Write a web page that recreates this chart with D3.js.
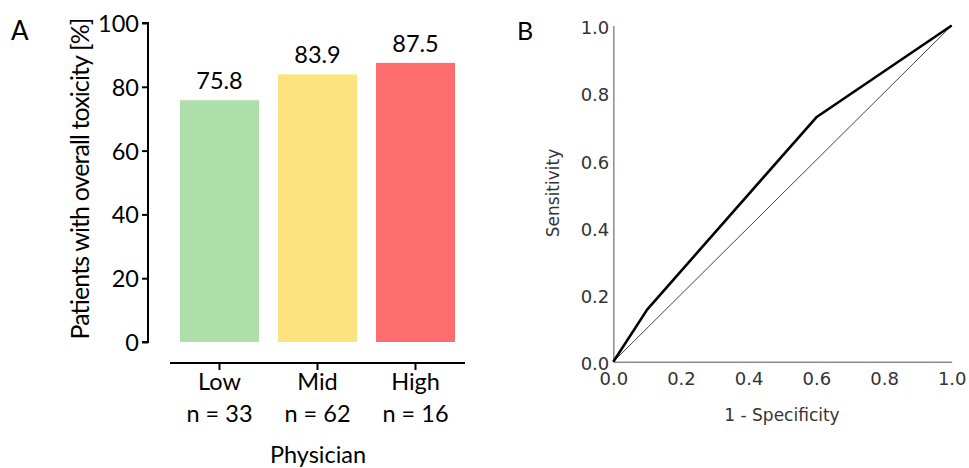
<!DOCTYPE html>
<html>
<head>
<meta charset="utf-8">
<script src="https://cdn.jsdelivr.net/npm/d3@7"></script>
<style>
  html, body { margin: 0; padding: 0; background: #fff; }
  svg { display: block; }
</style>
</head>
<body>
<svg id="chart" width="969" height="468"></svg>
<script>
// Panel A: share of patients with overall toxicity by physician group
const groups = ["Low", "Mid", "High"];
const groupCounts = ["n = 33", "n = 62", "n = 16"];
const toxicityPct = [75.8, 83.9, 87.5];
const barColors = ["#aedfab", "#fce380", "#fe6d6d"];
const pctTicks = [0, 20, 40, 60, 80, 100];

// Panel B: ROC curve
const fpr = [0, 0.1, 0.6, 1.0];
const tpr = [0, 0.155, 0.727, 1.0];
const rocTicks = [0, 0.2, 0.4, 0.6, 0.8, 1.0];

const svg = d3.select("#chart");
const fontA = "Lato, 'Open Sans', sans-serif";
const fontB = "'DejaVu Sans', Verdana, sans-serif";
const sizeA = 23.5;

// ---------- Panel A ----------
const gA = svg.append("g");
const y = d3.scaleLinear().domain([0, 100]).range([342, 23]);
const x = d3.scaleBand().domain(groups).range([170.5, 464.5])
  .paddingInner(0.194).paddingOuter(0.097);

// y axis
const yAxis = gA.append("g").attr("transform", "translate(148,0)")
  .call(d3.axisLeft(y).tickValues(pctTicks).tickSize(6).tickPadding(3).tickFormat(d3.format("d")));
yAxis.select(".domain").attr("stroke", "#000").attr("stroke-width", 2).attr("d", `M-6,${y(100)}H0V${y(0)}H-6`);
yAxis.selectAll(".tick line").attr("stroke", "#000").attr("stroke-width", 2);
yAxis.selectAll(".tick text").attr("font-family", fontA).attr("font-size", sizeA).attr("fill", "#000")
  .attr("dy", "0.36em");

// bars
gA.selectAll("rect.bar").data(groups).join("rect")
  .attr("class", "bar")
  .attr("x", d => x(d))
  .attr("width", x.bandwidth())
  .attr("y", (d, i) => y(toxicityPct[i]))
  .attr("height", (d, i) => y(0) - y(toxicityPct[i]))
  .attr("fill", (d, i) => barColors[i]);

// value labels
gA.selectAll("text.val").data(groups).join("text")
  .attr("class", "val")
  .attr("x", d => x(d) + x.bandwidth() / 2)
  .attr("y", (d, i) => y(toxicityPct[i]) - 11)
  .attr("text-anchor", "middle")
  .attr("font-family", fontA).attr("font-size", sizeA)
  .text((d, i) => toxicityPct[i].toFixed(1));

// detached x axis
const xAxis = gA.append("g").attr("transform", "translate(0,363)")
  .call(d3.axisBottom(x).tickSize(7).tickFormat(() => ""));
xAxis.select(".domain").attr("stroke", "#000").attr("stroke-width", 2).attr("d", "M170,0H465");
xAxis.selectAll(".tick line").attr("stroke", "#000").attr("stroke-width", 2);
xAxis.selectAll(".tick").each(function(d, i) {
  const t = d3.select(this);
  t.append("text").attr("y", 27).attr("text-anchor", "middle").attr("fill", "#000")
    .attr("font-family", fontA).attr("font-size", sizeA).text(d);
  t.append("text").attr("y", 59).attr("text-anchor", "middle").attr("fill", "#000")
    .attr("font-family", fontA).attr("font-size", sizeA).text(groupCounts[i]);
});

gA.append("text").attr("x", 318).attr("y", 463).attr("text-anchor", "middle")
  .attr("font-family", fontA).attr("font-size", sizeA).text("Physician");

gA.append("text")
  .attr("transform", `translate(89,${(y(0) + 15) / 2}) rotate(-90)`)
  .attr("text-anchor", "middle")
  .attr("font-family", fontA).attr("font-size", 25)
  .attr("textLength", 322).attr("lengthAdjust", "spacing")
  .text("Patients with overall toxicity [%]");

gA.append("text").attr("x", 11).attr("y", 40)
  .attr("font-family", fontA).attr("font-size", 26).text("A");

// ---------- Panel B ----------
const gB = svg.append("g");
const rx = d3.scaleLinear().domain([0, 1]).range([613.3, 951.7]);
const ry = d3.scaleLinear().domain([0, 1]).range([361.7, 25.5]);
const axisGray = "#8c8c8c";
const labelGray = "#333";

const bx = gB.append("g").attr("transform", `translate(0,${ry(0)})`)
  .call(d3.axisBottom(rx).tickValues(rocTicks).tickSize(0).tickPadding(11).tickFormat(d3.format(".1f")));
bx.select(".domain").attr("stroke", axisGray).attr("stroke-width", 1.5);
bx.selectAll(".tick text").attr("font-family", fontB).attr("font-size", 18).attr("fill", labelGray);

const by = gB.append("g").attr("transform", `translate(${rx(0)},0)`)
  .call(d3.axisLeft(ry).tickValues(rocTicks).tickSize(0).tickPadding(4).tickFormat(d3.format(".1f")));
by.select(".domain").attr("stroke", axisGray).attr("stroke-width", 1.5);
by.selectAll(".tick text").attr("font-family", fontB).attr("font-size", 18).attr("fill", labelGray)
  .attr("dy", "0.45em");

// reference diagonal
gB.append("line")
  .attr("x1", rx(0)).attr("y1", ry(0)).attr("x2", rx(1)).attr("y2", ry(1))
  .attr("stroke", "#444").attr("stroke-width", 1);

// ROC curve
const rocPts = fpr.map((f, i) => [f, tpr[i]]);
gB.append("path").datum(rocPts)
  .attr("fill", "none").attr("stroke", "#000").attr("stroke-width", 2.6)
  .attr("stroke-linejoin", "round")
  .attr("d", d3.line().x(d => rx(d[0])).y(d => ry(d[1])));

gB.append("text").attr("x", 782).attr("y", 421).attr("text-anchor", "middle")
  .attr("font-family", fontB).attr("font-size", 17).attr("fill", labelGray)
  .text("1 - Specificity");

gB.append("text")
  .attr("transform", "translate(559,193) rotate(-90)")
  .attr("text-anchor", "middle")
  .attr("font-family", fontB).attr("font-size", 17).attr("fill", labelGray)
  .text("Sensitivity");

gB.append("text").attr("x", 517).attr("y", 40)
  .attr("font-family", fontA).attr("font-size", 25).text("B");
</script>
</body>
</html>
